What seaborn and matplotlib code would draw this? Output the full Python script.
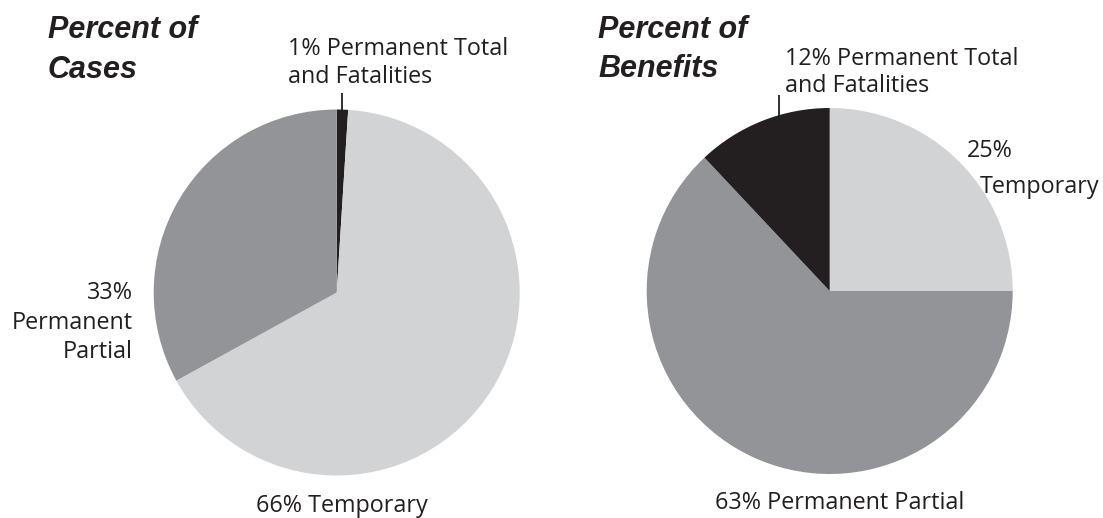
import numpy as np
import matplotlib
matplotlib.use("Agg")
import matplotlib.pyplot as plt
import seaborn as sns

sns.set_theme(style="white")
plt.rcParams["font.family"] = ["Open Sans", "DejaVu Sans"]

# Claim categories and their shares (%)
case_labels = ["Permanent Total and Fatalities", "Temporary", "Permanent Partial"]
case_share = [1, 66, 33]
benefit_labels = ["Temporary", "Permanent Partial", "Permanent Total and Fatalities"]
benefit_share = [25, 63, 12]

colors = {
    "Permanent Total and Fatalities": "#231f20",
    "Temporary": "#d1d3d4",
    "Permanent Partial": "#929497",
}

W, H = 1103, 518
fig = plt.figure(figsize=(W / 100, H / 100), dpi=100)
fig.patch.set_facecolor("white")


def fx(px):
    return px / W


def fy(py):
    return 1 - py / H


def pie_axes(cx, cy, r):
    return fig.add_axes([fx(cx - r), fy(cy + r), 2 * r / W, 2 * r / H])


def draw_pie(ax, labels, shares):
    ax.pie(shares, colors=[colors[l] for l in labels], startangle=90,
           counterclock=False, radius=1.0,
           wedgeprops=dict(linewidth=0))
    ax.set_xlim(-1, 1)
    ax.set_ylim(-1, 1)
    ax.set_aspect("equal")
    ax.axis("off")


def leader(ax, x_axes, y_top):
    # vertical tick from the rim of the pie up to the label
    y_rim = np.sqrt(1 - x_axes ** 2)
    ax.plot([x_axes, x_axes], [y_rim - 0.01, y_top], color="#231f20",
            lw=1.3, clip_on=False, solid_capstyle="butt")


label_kw = dict(fontsize=16.8, color="#231f20", fontweight="normal")
title_kw = dict(fontsize=22, color="#231f20", fontweight="bold",
                fontstyle="italic", family=["Liberation Sans", "DejaVu Sans"])


def txt(x, y, s, ha="left", **kw):
    fig.text(fx(x), fy(y), s, ha=ha, va="baseline", **kw)


# Left pie: share of cases
R1, C1 = 183, (336.7, 292.5)
ax1 = pie_axes(C1[0], C1[1], R1)
draw_pie(ax1, case_labels, case_share)
leader(ax1, (341.7 - C1[0]) / R1, (C1[1] - 92.7) / R1)

txt(48, 38, "Percent of", **title_kw)
txt(48, 78, "Cases", **title_kw)
txt(288, 55, f"{case_share[0]}% Permanent Total", **label_kw)
txt(288, 83, "and Fatalities", **label_kw)
txt(133, 299, f"{case_share[2]}%", ha="right", **label_kw)
txt(133, 329, "Permanent", ha="right", **label_kw)
txt(133, 358, "Partial", ha="right", **label_kw)
txt(341.5, 511.5, f"{case_share[1]}% Temporary", ha="center", **label_kw)

# Right pie: share of benefits
R2, C2 = 183, (829.7, 291)
ax2 = pie_axes(C2[0], C2[1], R2)
draw_pie(ax2, benefit_labels, benefit_share)
leader(ax2, (779 - C2[0]) / R2, (C2[1] - 95) / R2)

txt(598, 38, "Percent of", **title_kw)
txt(598, 77, "Benefits", **title_kw)
txt(785, 65, f"{benefit_share[2]}% Permanent Total", **label_kw)
txt(785, 92, "and Fatalities", **label_kw)
txt(967, 157, f"{benefit_share[0]}%", **label_kw)
txt(980, 193, "Temporary", **label_kw)
txt(840, 509, f"{benefit_share[1]}% Permanent Partial", ha="center", **label_kw)

fig.savefig("out.png", dpi=100, facecolor="white")
